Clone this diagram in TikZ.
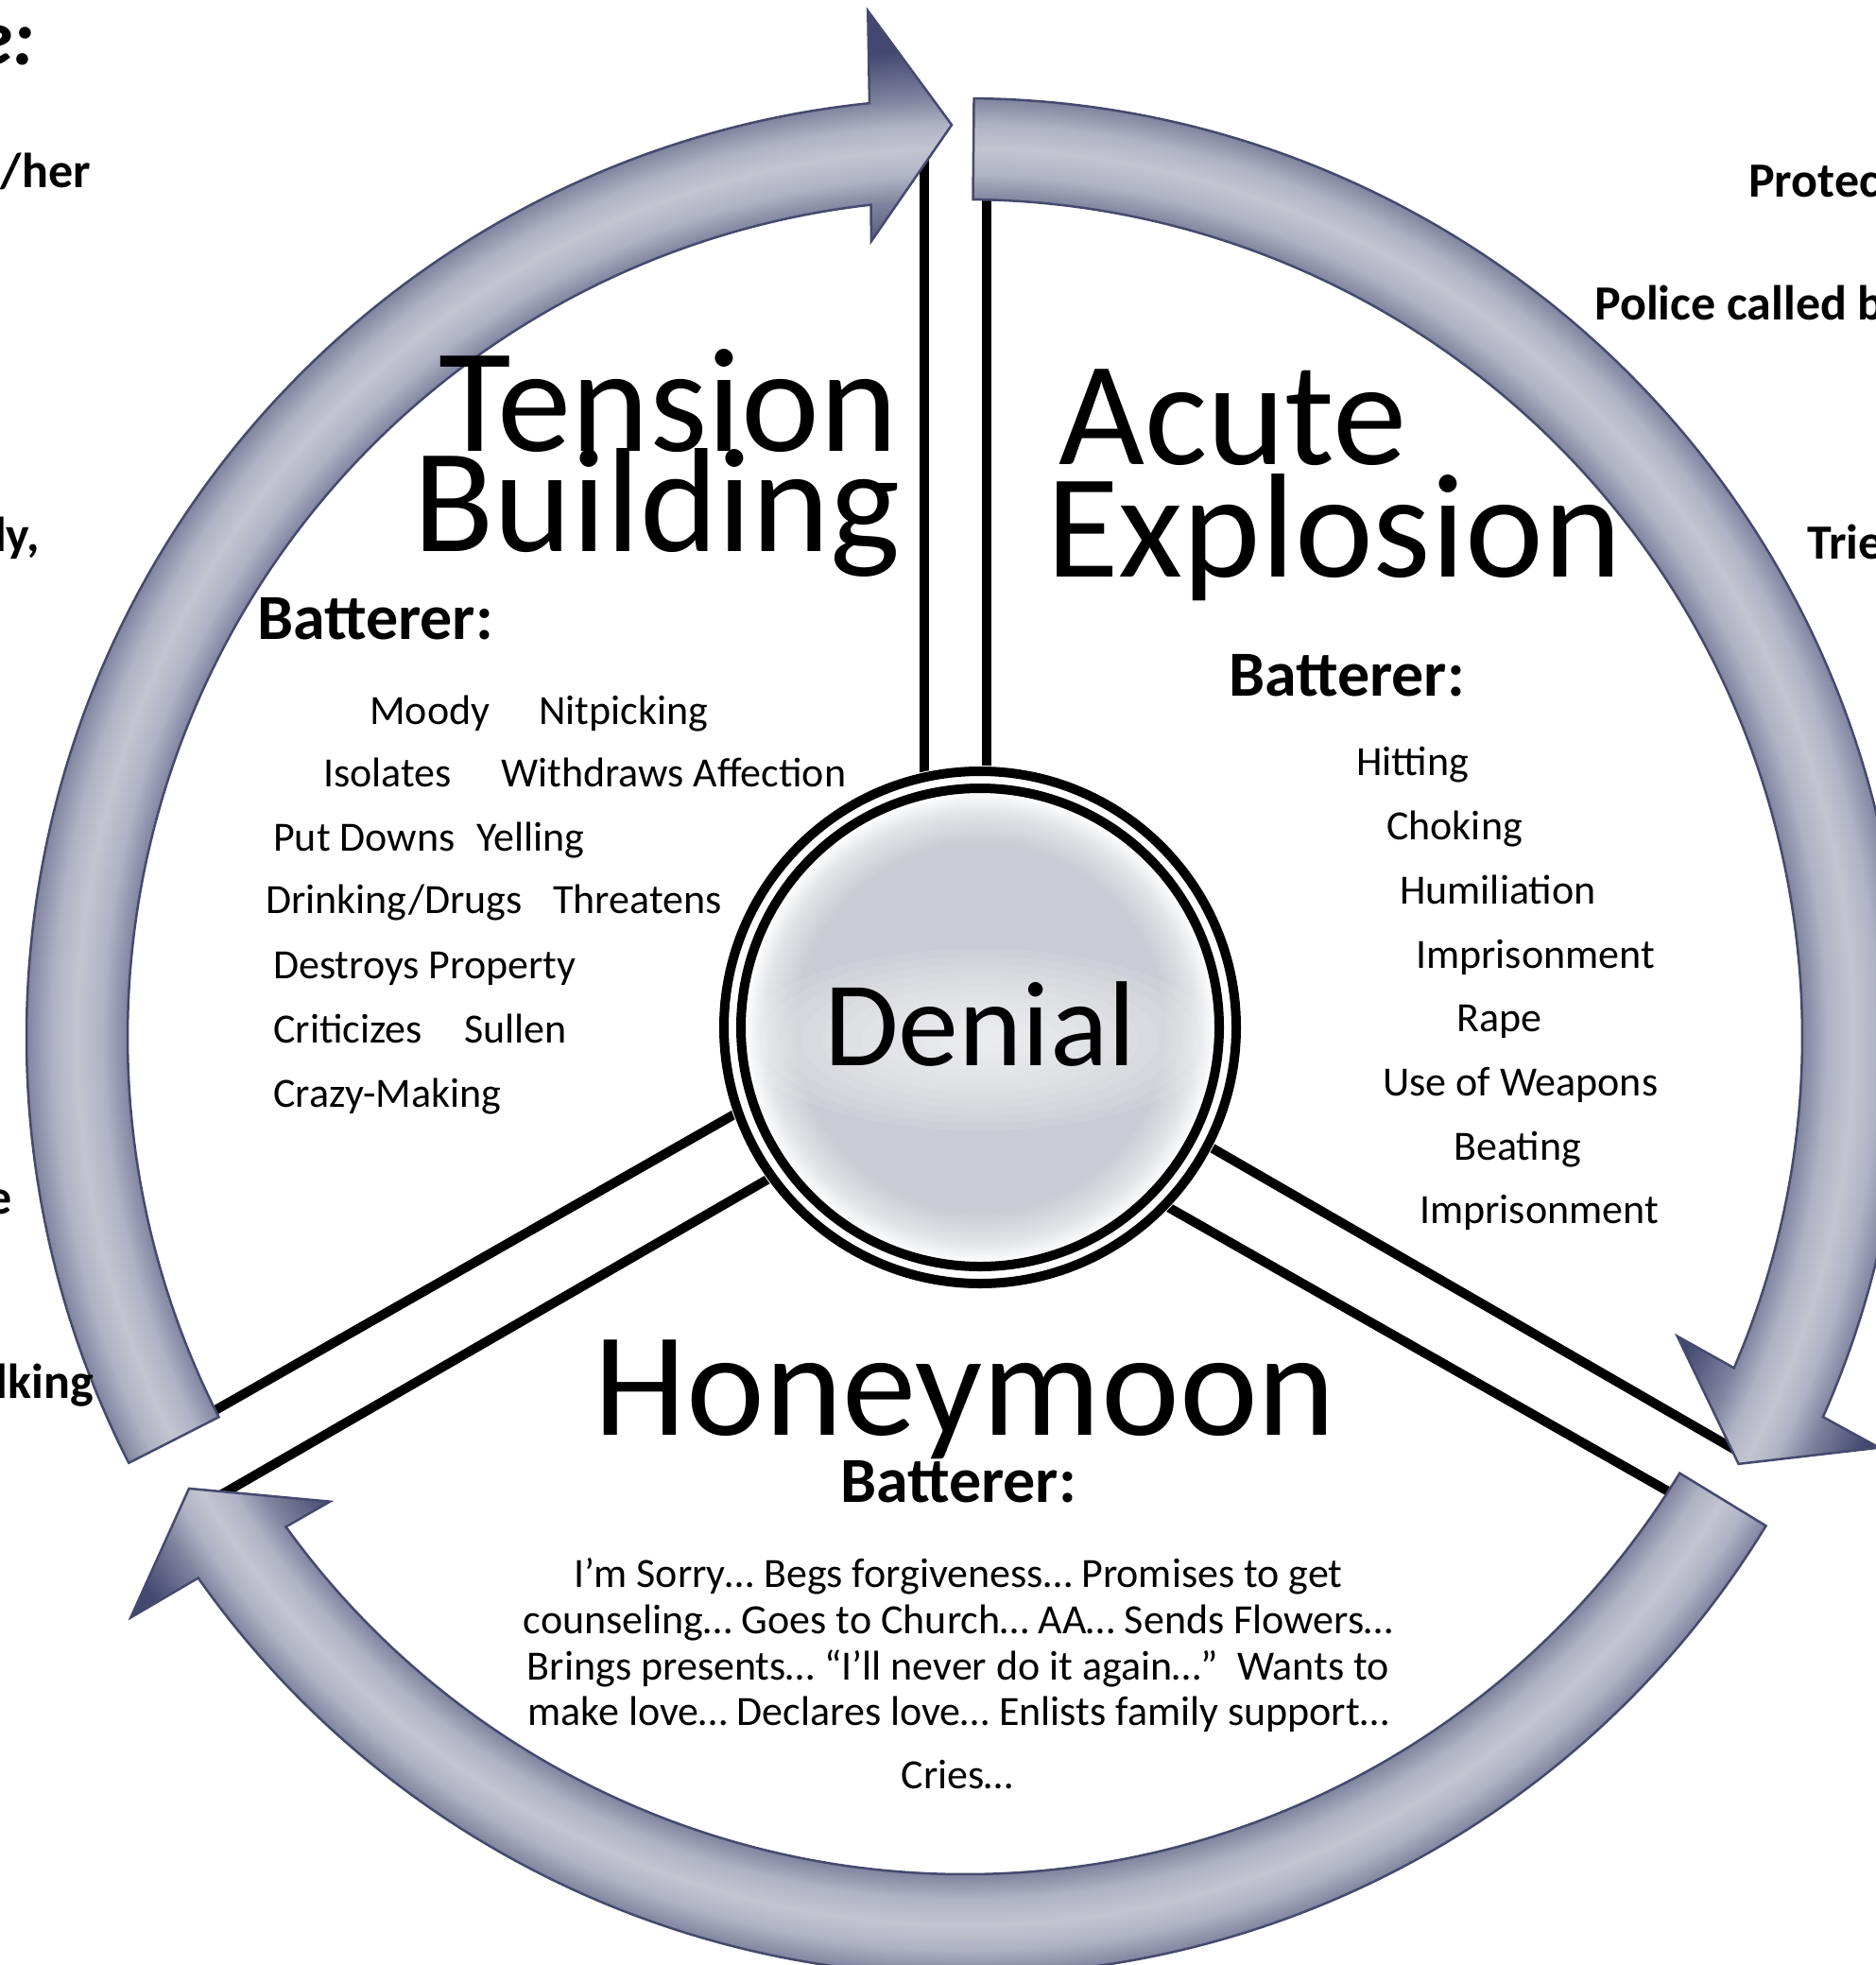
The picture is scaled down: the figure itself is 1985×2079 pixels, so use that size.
\documentclass[tikz,border=0pt]{standalone}
\usepackage{fontspec}
\setmainfont{Carlito}
\usetikzlibrary{calc}
\definecolor{ringdark}{HTML}{434870}
\definecolor{ringmid}{HTML}{80849F}
\definecolor{ringlight}{HTML}{AFB2C4}
\definecolor{ringpale}{HTML}{C3C5D0}
\definecolor{discgray}{HTML}{C9CCD2}
\definecolor{discrim}{HTML}{E2E4E8}
\definecolor{segedge}{HTML}{454A6E}
\pgfdeclareradialshading{ringshade}{\pgfpointorigin}{color(0pt)=(ringdark); color(790pt)=(ringdark); color(830pt)=(ringdark); color(886pt)=(ringmid); color(912pt)=(ringlight); color(940pt)=(ringpale); color(966pt)=(ringlight); color(993pt)=(ringmid); color(1045pt)=(ringdark); color(1110pt)=(ringdark)}
\pgfdeclareradialshading{discshade}{\pgfpointorigin}{color(0pt)=(discgray); color(195pt)=(discgray); color(228pt)=(discrim); color(250pt)=(white)}
% #1 start angle, #2 tip angle, #3 tip radius, #4 node name
\newcommand{\ringseg}[4]{%
  \pgfmathsetmacro\rsO{#2+5.01}%
  \pgfmathsetmacro\rsI{#2+5.61}%
  \pgfmathsetmacro\rsP{#2+90}%
  \pgfmathsetmacro\rsBo{#3+122}%
  \pgfmathsetmacro\rsBi{#3-122}%
  \begin{scope}
    \clip ($(C)+(#1:993)$) arc[start angle=#1, end angle=\rsO, radius=993] -- ($(C)+(#2:\rsBo)+(\rsP:87)$) -- ($(C)+(#2:#3)$) -- ($(C)+(#2:\rsBi)+(\rsP:87)$) -- ($(C)+(\rsI:886)$) arc[start angle=\rsI, end angle=#1, radius=886] -- cycle;
    \node[shadenode] (#4) at (C) {\pgfuseshading{ringshade}};
  \end{scope}
  \draw[segline] ($(C)+(#1:993)$) arc[start angle=#1, end angle=\rsO, radius=993] -- ($(C)+(#2:\rsBo)+(\rsP:87)$) -- ($(C)+(#2:#3)$) -- ($(C)+(#2:\rsBi)+(\rsP:87)$) -- ($(C)+(\rsI:886)$) arc[start angle=\rsI, end angle=#1, radius=886] -- cycle;
}
\begin{document}
\begin{tikzpicture}[x=1pt,y=1pt,
  segline/.style={draw=segedge, line width=2.5pt, line join=miter},
  divline/.style={line width=10pt, draw=black},
  shadenode/.style={inner sep=0pt, outer sep=0pt},
  title/.style={inner sep=0pt, font=\fontsize{157}{160}\selectfont},
  denialtxt/.style={inner sep=0pt, font=\fontsize{128}{130}\selectfont},
  hdr/.style={inner sep=0pt, font=\bfseries\fontsize{68}{70}\selectfont},
  item/.style={inner sep=0pt, font=\fontsize{44}{48}\selectfont},
  side/.style={inner sep=0pt, font=\bfseries\fontsize{52}{56}\selectfont}]
\useasboundingbox (0,0) rectangle (1985,-2079);
\fill[white] (0,0) rectangle (1985,-2079);

\coordinate (C) at (1021,-1097);
\coordinate (D) at (1037,-1087);

% divider lines
\coordinate (tl1) at (978,-1087);  \coordinate (tl2) at (978,-150);
\coordinate (tr1) at (1044,-1087); \coordinate (tr2) at (1044,-185);
\coordinate (ru1) at (1193,-1163); \coordinate (ru2) at (1843,-1538);
\coordinate (rl1) at (1153,-1230); \coordinate (rl2) at (1790,-1592);
\coordinate (lu1) at (863,-1130);  \coordinate (lu2) at (205,-1505);
\coordinate (ll1) at (902,-1196);  \coordinate (ll2) at (214,-1593);
\draw[divline] (tl1) -- (tl2);
\draw[divline] (tr1) -- (tr2);
\draw[divline] (ru1) -- (ru2);
\draw[divline] (rl1) -- (rl2);
\draw[divline] (lu1) -- (lu2);
\draw[divline] (ll1) -- (ll2);

% Denial disc
\fill[white] (D) circle[radius=277];
\begin{scope}
  \clip (D) circle[radius=248];
  \node[shadenode] (discsh) at (D) {\pgfuseshading{discshade}};
  \foreach \k in {1,...,12} {
    \fill[white, fill opacity=0.09] (1037,-1100) ellipse[x radius={21*\k}, y radius={8*\k}];
  }
\end{scope}
\draw[line width=10pt] (D) circle[radius=271];
\draw[line width=10pt] (D) circle[radius=253];

% ring segments
\ringseg{207}{90.83}{965}{segA}
\ringseg{89.45}{-28.9}{935}{segB}
\ringseg{-31.4}{-149.8}{950}{segC}

% titles
\node[title, anchor=base] (tension) at (707,-477) {Tension};
\node[title, anchor=base] (building) at (695,-583) {Building};
\node[title, anchor=base west] (acute) at (1120,-491) {Acute};
\node[title, anchor=base west] (explosion) at (1107,-610) {Explosion};
\node[title, anchor=base] (honeymoon) at (1021,-1518) {Honeymoon};
\node[denialtxt, anchor=base] (denial) at (1037,-1127) {Denial};

% headers
\node[hdr, anchor=base west] (batL) at (272,-676) {Batterer:};
\node[hdr, anchor=base west] (batR) at (1300,-736) {Batterer:};
\node[hdr, anchor=base] (batB) at (1014,-1589) {Batterer:};

% left list
\node[item, anchor=base west] (l1a) at (391,-766) {Moody};
\node[item, anchor=base west] (l1b) at (570,-766) {Nitpicking};
\node[item, anchor=base west] (l2a) at (342,-832) {Isolates};
\node[item, anchor=base west] (l2b) at (530,-832) {Withdraws Affection};
\node[item, anchor=base west] (l3a) at (289,-900) {Put Downs};
\node[item, anchor=base west] (l3b) at (504,-900) {Yelling};
\node[item, anchor=base west] (l4a) at (281,-966) {Drinking/Drugs};
\node[item, anchor=base west] (l4b) at (585,-966) {Threatens};
\node[item, anchor=base west] (l5) at (289,-1035) {Destroys Property};
\node[item, anchor=base west] (l6a) at (289,-1103) {Criticizes};
\node[item, anchor=base west] (l6b) at (491,-1103) {Sullen};
\node[item, anchor=base west] (l7) at (289,-1171) {Crazy-Making};

% right list
\node[item, anchor=base west] (r1) at (1435,-820) {Hitting};
\node[item, anchor=base west] (r2) at (1467,-888) {Choking};
\node[item, anchor=base west] (r3) at (1481,-956) {Humiliation};
\node[item, anchor=base west] (r4) at (1498,-1024) {Imprisonment};
\node[item, anchor=base west] (r5) at (1541,-1091) {Rape};
\node[item, anchor=base west] (r6) at (1463,-1159) {Use of Weapons};
\node[item, anchor=base west] (r7) at (1538,-1227) {Beating};
\node[item, anchor=base west] (r8) at (1502,-1294) {Imprisonment};

% bottom paragraph
\node[item, anchor=base] (b1) at (1014,-1679) {I’m Sorry… Begs forgiveness… Promises to get};
\node[item, anchor=base] (b2) at (1014,-1728) {counseling… Goes to Church… AA… Sends Flowers…};
\node[item, anchor=base] (b3) at (1014,-1777) {Brings presents… “I’ll never do it again…”\ \ Wants to};
\node[item, anchor=base] (b4) at (1014,-1825) {make love… Declares love… Enlists family support…};
\node[item, anchor=base] (b5) at (1013,-1892) {Cries…};

% cut-off side texts
\node[inner sep=0pt, font=\bfseries\itshape\fontsize{84}{86}\selectfont, anchor=base east] (sL1) at (37,-69) {e:};
\node[side, anchor=base east] (sL2) at (96,-199) {/her};
\node[side, anchor=base east] (sL3) at (42,-583) {ly,};
\node[side, anchor=base east] (sL4) at (13,-1284) {e};
\node[side, anchor=base east] (sL5) at (99,-1479) {lking};
\node[side, anchor=base west] (sR1) at (1850,-208) {Protec};
\node[side, anchor=base west] (sR2) at (1687,-338) {Police called b};
\node[side, anchor=base west] (sR3) at (1912,-591) {Trie};
\end{tikzpicture}
\end{document}
